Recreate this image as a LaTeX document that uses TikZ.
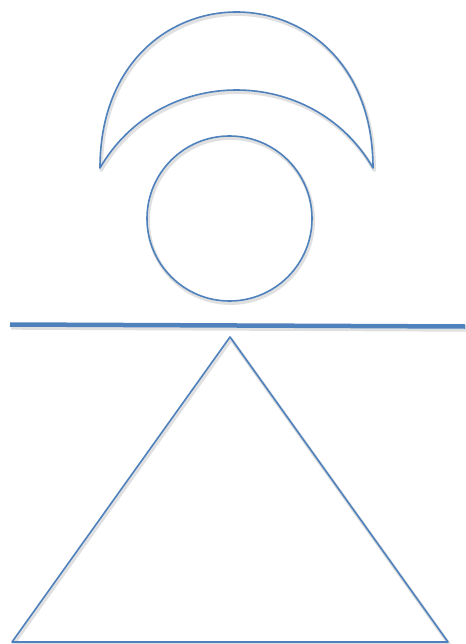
\documentclass[tikz,border=0pt]{standalone}
\definecolor{shapeblue}{RGB}{79,129,189}
\begin{document}
\begin{tikzpicture}[x=1pt,y=-1pt,
  outline/.style={draw=shapeblue,line width=1.6pt,line join=round},
  bar/.style={draw=shapeblue,line width=4.5pt},
  shade/.style={draw=black,opacity=0.12,line width=3.5pt,line join=round,shift={(1.2,2.2)}}]
\useasboundingbox (0,0) rectangle (465,644);
\fill[white] (0,0) rectangle (465,644);
% shadows
\draw[shade] (100,168) .. controls (100,-40) and (373,-40) .. (373,168)
  .. controls (313,64) and (160,64) .. cycle;
\draw[shade] (229.5,218.5) circle (82.5);
\draw[shade,line width=6pt] (10,324.5) -- (465,326.5);
\draw[shade] (230,337) -- (448,642) -- (12,642) -- cycle;
% shapes
\draw[outline] (100,168) .. controls (100,-40) and (373,-40) .. (373,168)
  .. controls (313,64) and (160,64) .. cycle;
\draw[outline] (229.5,218.5) circle (82.5);
\coordinate (lineL) at (10,324.5);
\coordinate (lineR) at (465,326.5);
\draw[bar] (lineL) -- (lineR);
\coordinate (apex) at (230,337);
\coordinate (baseR) at (448,642);
\coordinate (baseL) at (12,642);
\draw[outline] (apex) -- (baseR) -- (baseL) -- cycle;
\end{tikzpicture}
\end{document}
